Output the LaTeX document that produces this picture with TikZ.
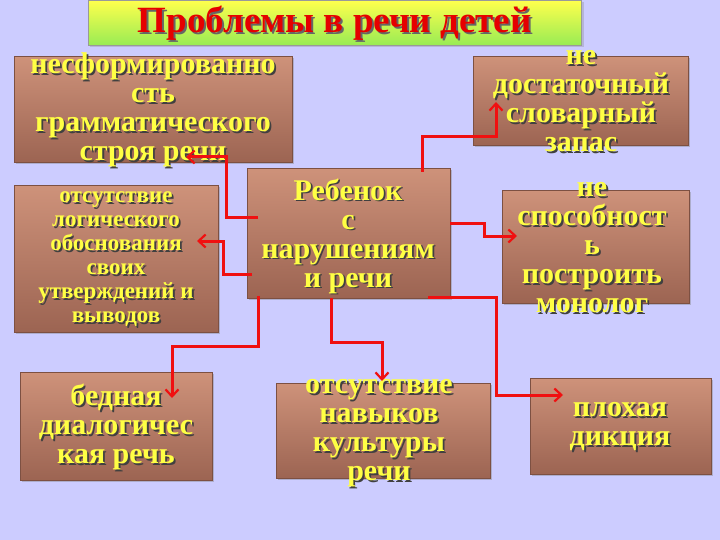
\documentclass[tikz,border=0pt]{standalone}
\usepackage{fontspec}
\setmainfont{Liberation Serif}
\usetikzlibrary{arrows.meta,shadows}
\definecolor{bg}{HTML}{CCCCFF}
\definecolor{txt}{HTML}{FFFF44}
\definecolor{boxtop}{HTML}{CE927A}
\definecolor{boxbot}{HTML}{9C6452}
\definecolor{conn}{HTML}{F01010}
\tikzset{
 pbox/.style={draw=boxbot!80!black,line width=0.6pt,top color=boxtop,bottom color=boxbot,drop shadow={shadow xshift=2pt,shadow yshift=-2pt,opacity=0.4}},
 ptext/.style={align=center,text=txt},
 pshad/.style={align=center,text=black!75},
 conn/.style={draw=conn,line width=3pt,-{Straight Barb[length=7pt,width=13pt,line width=2.2pt]}}
}
\newcommand{\btext}[5]{%
 \node[pshad,xshift=1.8pt,yshift=-1.8pt,font=\bfseries\fontsize{#3}{#4}\selectfont] at (#1) {#5};
 \node[ptext,font=\bfseries\fontsize{#3}{#4}\selectfont] (#2) at (#1) {#5};}
\begin{document}
\begin{tikzpicture}[x=1pt,y=-1pt]
\fill[bg] (0,0) rectangle (720,540);
\useasboundingbox (0,0) rectangle (720,540);
% title
\node[draw=black!40,top color=yellow!70!white,bottom color=green!55!yellow!70!white!85!gray,minimum width=493pt,minimum height=45pt,anchor=north west,drop shadow={opacity=0.3}] (title) at (88,0) {};
\node[font=\bfseries\fontsize{37}{40}\selectfont,text=black!60,xshift=2pt,yshift=-2pt] at (title.center) {Проблемы в речи детей};
\node[font=\bfseries\fontsize{37}{40}\selectfont,text=red!90!black] (tt) at (title.center) {Проблемы в речи детей};
% boxes
\node[pbox,anchor=north west,minimum width=278pt,minimum height=106pt] (A) at (14,56) {};
\node[pbox,anchor=north west,minimum width=215pt,minimum height=89pt] (B) at (473,56) {};
\node[pbox,anchor=north west,minimum width=203pt,minimum height=130pt] (M) at (247,168) {};
\node[pbox,anchor=north west,minimum width=204pt,minimum height=147pt] (C) at (14,185) {};
\node[pbox,anchor=north west,minimum width=187pt,minimum height=113pt] (D) at (502,190) {};
\node[pbox,anchor=north west,minimum width=192pt,minimum height=108pt] (E) at (20,372) {};
\node[pbox,anchor=north west,minimum width=214pt,minimum height=95pt] (F) at (276,383) {};
\node[pbox,anchor=north west,minimum width=181pt,minimum height=96pt] (G) at (530,378) {};
% texts
\btext{153,110}{At}{30}{29}{несформированно\\сть\\грамматического\\строя речи}
\btext{581,101}{Bt}{30}{29}{не\\достаточный\\словарный\\запас}
\btext{348,236}{Mt}{30}{29}{Ребенок\\с\\нарушениям\\и речи}
\btext{116,259}{Ct}{23}{24}{отсутствие\\логического\\обоснования\\своих\\утверждений и\\выводов}
\btext{592,248}{Dt}{30}{29}{не\\способност\\ь\\построить\\монолог}
\btext{116,427}{Et}{30}{29}{бедная\\диалогичес\\кая речь}
\btext{379,433}{Ft}{30}{29}{отсутствие\\навыков\\культуры\\речи}
\btext{620,427}{Gt}{30}{29}{плохая\\дикция}
% connectors
\coordinate (m1) at (258,218); \coordinate (a1) at (186,157);
\draw[conn] (m1) -- (226,218) -- (226,157) -- (a1);
\coordinate (m2) at (422,172); \coordinate (b1) at (496,102);
\draw[conn] (m2) -- (422,137) -- (496,137) -- (b1);
\coordinate (m3) at (450,224); \coordinate (d1) at (517,236);
\draw[conn] (m3) -- (484,224) -- (484,236) -- (d1);
\coordinate (m4) at (252,274); \coordinate (c1) at (197,241);
\draw[conn] (m4) -- (223,274) -- (223,241) -- (c1);
\coordinate (m5) at (258,296); \coordinate (e1) at (172,398);
\draw[conn] (m5) -- (258,346) -- (172,346) -- (e1);
\coordinate (m6) at (331,298); \coordinate (f1) at (382,381);
\draw[conn] (m6) -- (331,342) -- (382,342) -- (f1);
\coordinate (m7) at (428,297); \coordinate (g1) at (563,395);
\draw[conn] (m7) -- (496,297) -- (496,395) -- (g1);
\end{tikzpicture}
\end{document}
